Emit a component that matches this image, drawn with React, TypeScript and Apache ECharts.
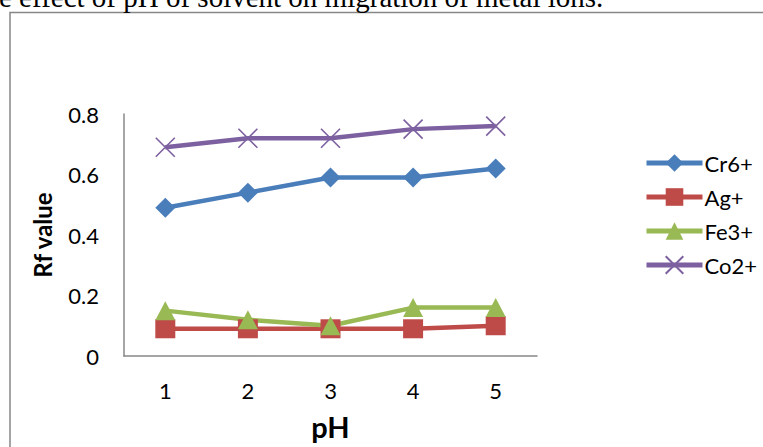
import React, { useEffect, useRef } from "react";
import * as echarts from "echarts";

const phLevels = ["1", "2", "3", "4", "5"];
const cr6 = [0.49, 0.54, 0.59, 0.59, 0.62];
const ag = [0.09, 0.09, 0.09, 0.09, 0.1];
const fe3 = [0.15, 0.12, 0.1, 0.16, 0.16];
const co2 = [0.69, 0.72, 0.72, 0.75, 0.76];
const seriesNames = ["Cr6+", "Ag+", "Fe3+", "Co2+"];
const captionText = "e effect of pH of solvent on migration of metal ions.";

const FONT = "Lato, 'Open Sans', sans-serif";
const CROSS = "path://M0,0L10,10M10,0L0,10";

export default function App() {
  const ref = useRef<HTMLDivElement>(null);

  useEffect(() => {
    if (!ref.current) return;
    const chart = echarts.init(ref.current, null, { renderer: "svg" });

    const lineSeries = (
      name: string,
      data: number[],
      color: string,
      symbol: string,
      size: number | number[],
      extra: any = {}
    ) => ({
      name,
      type: "line",
      data,
      symbol,
      symbolSize: size,
      showAllSymbol: true,
      lineStyle: { color, width: 4.5 },
      itemStyle: { color, ...extra },
      emphasis: { disabled: true },
    });

    chart.setOption({
      animation: false,
      backgroundColor: "#fff",
      grid: { left: 124, top: 114, width: 413, height: 242, containLabel: false },
      xAxis: {
        type: "category",
        data: phLevels,
        boundaryGap: true,
        axisLine: { lineStyle: { color: "#888", width: 1.5 } },
        axisTick: { show: false },
        axisLabel: { color: "#000", fontSize: 22, fontFamily: FONT, margin: 23 },
        name: "pH",
        nameLocation: "middle",
        nameGap: 56,
        nameTextStyle: { color: "#000", fontSize: 29, fontWeight: "bold", fontFamily: FONT },
        splitLine: { show: false },
      },
      yAxis: {
        type: "value",
        min: 0,
        max: 0.8,
        interval: 0.2,
        axisLine: { show: true, lineStyle: { color: "#888", width: 1.5 } },
        axisTick: { show: false },
        splitLine: { show: false },
        axisLabel: { color: "#000", fontSize: 22, fontFamily: FONT, margin: 25 },
        name: "Rf value",
        nameLocation: "middle",
        nameGap: 70,
        nameRotate: 90,
        nameTextStyle: { color: "#000", fontSize: 24, fontWeight: "bold", fontFamily: FONT },
      },
      legend: {
        orient: "vertical",
        left: 639,
        top: 147,
        itemWidth: 56,
        itemHeight: 22,
        itemGap: 12,
        lineStyle: { width: 5 },
        textStyle: { color: "#000", fontSize: 22, fontFamily: FONT, padding: [0, 0, 0, -3] },
        data: seriesNames,
      },
      series: [
        lineSeries(seriesNames[0], cr6, "#4A7EBB", "diamond", [20, 20]),
        lineSeries(seriesNames[1], ag, "#BE4B48", "rect", [20, 19]),
        lineSeries(seriesNames[2], fe3, "#98B954", "triangle", [20, 19]),
        lineSeries(seriesNames[3], co2, "#7D60A0", CROSS, [19, 19], {
          borderColor: "#7D60A0",
          borderWidth: 1.6,
        }),
      ],
      graphic: [
        {
          type: "rect",
          silent: true,
          shape: { x: 10, y: 12.5, width: 900, height: 600 },
          style: { fill: "none", stroke: "#878787", lineWidth: 1.5 },
        },
        {
          type: "text",
          silent: true,
          x: -1,
          y: -18,
          style: {
            text: captionText,
            fill: "#000",
            font: "29px 'Liberation Serif', 'Times New Roman', serif",
            verticalAlign: "top",
          },
        },
      ],
    });

    return () => chart.dispose();
  }, []);

  return (
    <div
      ref={ref}
      style={{ position: "absolute", left: 0, top: 0, width: 763, height: 447 }}
    />
  );
}
